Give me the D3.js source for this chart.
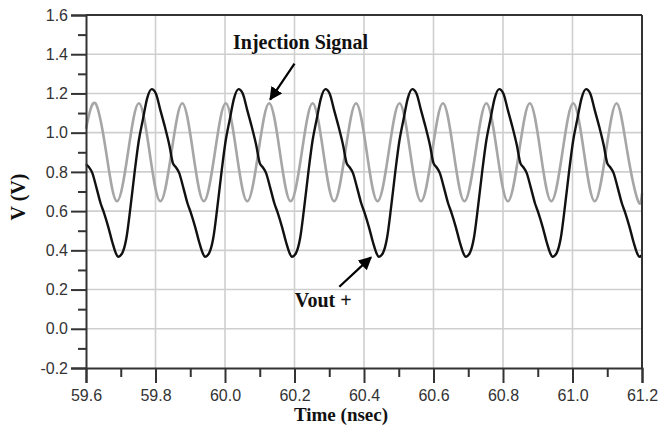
<!DOCTYPE html>
<html>
<head>
<meta charset="utf-8">
<script src="https://cdn.jsdelivr.net/npm/d3@7"></script>
<style>
  body { margin: 0; background: #fff; }
  svg { display: block; }
</style>
</head>
<body>
<svg id="chart"></svg>
<script>
// time in nsec, voltage in V
const injTime = [59.600, 59.627, 59.658, 59.689, 59.721, 59.752, 59.783, 59.814, 59.846, 59.877,
  59.908, 59.939, 59.971, 60.002, 60.033, 60.064, 60.096, 60.127, 60.158, 60.189,
  60.221, 60.252, 60.283, 60.314, 60.346, 60.377, 60.408, 60.439, 60.471, 60.502,
  60.533, 60.564, 60.596, 60.627, 60.658, 60.689, 60.721, 60.752, 60.783, 60.814,
  60.846, 60.877, 60.908, 60.939, 60.971, 61.002, 61.033, 61.064, 61.096, 61.127,
  61.158, 61.189, 61.200];
const injVolt = [1.02, 1.15, 0.90, 0.65, 0.90, 1.15, 0.90, 0.65, 0.90, 1.15,
  0.90, 0.65, 0.90, 1.15, 0.90, 0.65, 0.90, 1.15, 0.90, 0.65,
  0.90, 1.15, 0.90, 0.65, 0.90, 1.15, 0.90, 0.65, 0.90, 1.15,
  0.90, 0.65, 0.90, 1.15, 0.90, 0.65, 0.90, 1.15, 0.90, 0.65,
  0.90, 1.15, 0.90, 0.65, 0.90, 1.15, 0.90, 0.65, 0.90, 1.15,
  0.90, 0.65, 0.69];

const voutTime = [
  59.600, 59.608, 59.618, 59.630, 59.642, 59.652, 59.664, 59.676, 59.686,
  59.692, 59.704, 59.716, 59.728, 59.740, 59.752, 59.764, 59.776, 59.789, 59.801, 59.814,
  59.827, 59.840, 59.850, 59.858, 59.868, 59.880, 59.892, 59.902, 59.914, 59.926, 59.936,
  59.942, 59.954, 59.966, 59.978, 59.990, 60.002, 60.014, 60.026, 60.039, 60.051, 60.064,
  60.077, 60.090, 60.100, 60.108, 60.118, 60.130, 60.142, 60.152, 60.164, 60.176, 60.186,
  60.192, 60.204, 60.216, 60.228, 60.240, 60.252, 60.264, 60.276, 60.289, 60.301, 60.314,
  60.327, 60.340, 60.350, 60.358, 60.368, 60.380, 60.392, 60.402, 60.414, 60.426, 60.436,
  60.442, 60.454, 60.466, 60.478, 60.490, 60.502, 60.514, 60.526, 60.539, 60.551, 60.564,
  60.577, 60.590, 60.600, 60.608, 60.618, 60.630, 60.642, 60.652, 60.664, 60.676, 60.686,
  60.692, 60.704, 60.716, 60.728, 60.740, 60.752, 60.764, 60.776, 60.789, 60.801, 60.814,
  60.827, 60.840, 60.850, 60.858, 60.868, 60.880, 60.892, 60.902, 60.914, 60.926, 60.936,
  60.942, 60.954, 60.966, 60.978, 60.990, 61.002, 61.014, 61.026, 61.039, 61.051, 61.064,
  61.077, 61.090, 61.100, 61.108, 61.118, 61.130, 61.142, 61.152, 61.164, 61.176, 61.186,
  61.192, 61.200];
const voutVolt = [
  0.84, 0.825, 0.795, 0.72, 0.64, 0.59, 0.52, 0.44, 0.385,
  0.367, 0.385, 0.46, 0.62, 0.80, 0.96, 1.07, 1.175, 1.222, 1.20, 1.115,
  1.03, 0.935, 0.845, 0.825, 0.795, 0.72, 0.64, 0.59, 0.52, 0.44, 0.385,
  0.367, 0.385, 0.46, 0.62, 0.80, 0.96, 1.07, 1.175, 1.222, 1.20, 1.115,
  1.03, 0.935, 0.845, 0.825, 0.795, 0.72, 0.64, 0.59, 0.52, 0.44, 0.385,
  0.367, 0.385, 0.46, 0.62, 0.80, 0.96, 1.07, 1.175, 1.222, 1.20, 1.115,
  1.03, 0.935, 0.845, 0.825, 0.795, 0.72, 0.64, 0.59, 0.52, 0.44, 0.385,
  0.367, 0.385, 0.46, 0.62, 0.80, 0.96, 1.07, 1.175, 1.222, 1.20, 1.115,
  1.03, 0.935, 0.845, 0.825, 0.795, 0.72, 0.64, 0.59, 0.52, 0.44, 0.385,
  0.367, 0.385, 0.46, 0.62, 0.80, 0.96, 1.07, 1.175, 1.222, 1.20, 1.115,
  1.03, 0.935, 0.845, 0.825, 0.795, 0.72, 0.64, 0.59, 0.52, 0.44, 0.385,
  0.367, 0.385, 0.46, 0.62, 0.80, 0.96, 1.07, 1.175, 1.222, 1.20, 1.115,
  1.03, 0.935, 0.845, 0.825, 0.795, 0.72, 0.64, 0.59, 0.52, 0.44, 0.385,
  0.367, 0.375];

const xTicks = [59.6, 59.8, 60.0, 60.2, 60.4, 60.6, 60.8, 61.0, 61.2];
const xMinor = [59.7, 59.9, 60.1, 60.3, 60.5, 60.7, 60.9, 61.1];
const yTicks = [-0.2, 0.0, 0.2, 0.4, 0.6, 0.8, 1.0, 1.2, 1.4, 1.6];
const yMinor = [-0.1, 0.1, 0.3, 0.5, 0.7, 0.9, 1.1, 1.3, 1.5];

const width = 659;
const height = 434;
const margin = { top: 15, right: 17, bottom: 66, left: 86 };

const svg = d3.select("#chart")
    .attr("width", width)
    .attr("height", height);

const x = d3.scaleLinear()
    .domain([59.6, 61.2])
    .range([margin.left, width - margin.right]);

const y = d3.scaleLinear()
    .domain([-0.2, 1.6])
    .range([height - margin.bottom, margin.top]);

// grid
svg.append("g")
    .attr("stroke", "#cfcfcf")
    .attr("stroke-width", 1.6)
    .selectAll("line")
    .data(xTicks.slice(1, -1))
    .join("line")
    .attr("x1", d => x(d)).attr("x2", d => x(d))
    .attr("y1", y(1.6)).attr("y2", y(-0.2));

svg.append("g")
    .attr("stroke", "#cfcfcf")
    .attr("stroke-width", 1.6)
    .selectAll("line")
    .data(yTicks.slice(1, -1))
    .join("line")
    .attr("x1", x(59.6)).attr("x2", x(61.2))
    .attr("y1", d => y(d)).attr("y2", d => y(d));

// curves
const injLine = d3.line()
    .x((d, i) => x(injTime[i]))
    .y(d => y(d))
    .curve(d3.curveNatural);

const voutLine = d3.line()
    .x((d, i) => x(voutTime[i]))
    .y(d => y(d))
    .curve(d3.curveMonotoneX);

svg.append("path")
    .attr("d", injLine(injVolt))
    .attr("fill", "none")
    .attr("stroke", "#a6a6a6")
    .attr("stroke-width", 2.6);

svg.append("path")
    .attr("d", voutLine(voutVolt))
    .attr("fill", "none")
    .attr("stroke", "#111")
    .attr("stroke-width", 2.4);

// axes
const axisColor = "#333";
const fmt = d => d.toFixed(1);

svg.append("g")
    .attr("transform", `translate(0, ${height - margin.bottom})`)
    .call(d3.axisBottom(x).tickValues(xTicks).tickSize(15).tickPadding(7).tickFormat(fmt));

svg.append("g")
    .attr("transform", `translate(0, ${height - margin.bottom})`)
    .call(d3.axisBottom(x).tickValues(xMinor).tickSize(9).tickFormat(""))
    .select(".domain").remove();

svg.append("g")
    .attr("transform", `translate(${margin.left}, 0)`)
    .call(d3.axisLeft(y).tickValues(yTicks).tickSize(15).tickPadding(3).tickFormat(fmt));

svg.append("g")
    .attr("transform", `translate(${margin.left}, 0)`)
    .call(d3.axisLeft(y).tickValues(yMinor).tickSize(8).tickFormat(""))
    .select(".domain").remove();

svg.selectAll(".tick line").attr("stroke", axisColor).attr("stroke-width", 2);
svg.selectAll(".domain").attr("stroke", axisColor).attr("stroke-width", 2);
svg.selectAll(".tick text")
    .attr("font-family", "'Liberation Sans', Arial, sans-serif")
    .attr("font-size", "16px")
    .attr("fill", "#333");

// top and right frame
svg.append("line")
    .attr("x1", x(59.6)).attr("x2", x(61.2))
    .attr("y1", y(1.6)).attr("y2", y(1.6))
    .attr("stroke", axisColor).attr("stroke-width", 2);
svg.append("line")
    .attr("x1", x(61.2)).attr("x2", x(61.2))
    .attr("y1", y(1.6)).attr("y2", y(-0.2))
    .attr("stroke", axisColor).attr("stroke-width", 2);

// axis titles
const serif = "'Liberation Serif', 'Times New Roman', serif";

svg.append("text")
    .attr("x", 341)
    .attr("y", 421)
    .attr("text-anchor", "middle")
    .attr("font-family", serif)
    .attr("font-weight", "bold")
    .attr("font-size", "19px")
    .attr("fill", "#111")
    .text("Time (nsec)");

svg.append("text")
    .attr("transform", "translate(25, 197) rotate(-90)")
    .attr("text-anchor", "middle")
    .attr("font-family", serif)
    .attr("font-weight", "bold")
    .attr("font-size", "20px")
    .attr("fill", "#111")
    .text("V (V)");

// annotations
svg.append("defs").append("marker")
    .attr("id", "head")
    .attr("viewBox", "0 0 10 10")
    .attr("refX", 9).attr("refY", 5)
    .attr("markerWidth", 6).attr("markerHeight", 6)
    .attr("markerUnits", "strokeWidth")
    .attr("orient", "auto")
    .append("path")
    .attr("d", "M0,0 L10,5 L0,10 Z")
    .attr("fill", "#000");

const notes = [
  { text: "Injection Signal", tx: 60.023, tv: 1.429, from: [60.200, 1.352], to: [60.130, 1.169] },
  { text: "Vout +", tx: 60.201, tv: 0.109, from: [60.329, 0.214], to: [60.420, 0.364] }
];

notes.forEach(n => {
  svg.append("text")
      .attr("x", x(n.tx))
      .attr("y", y(n.tv))
      .attr("font-family", serif)
      .attr("font-weight", "bold")
      .attr("font-size", "20px")
      .attr("fill", "#111")
      .text(n.text);
  svg.append("line")
      .attr("x1", x(n.from[0])).attr("y1", y(n.from[1]))
      .attr("x2", x(n.to[0])).attr("y2", y(n.to[1]))
      .attr("stroke", "#000")
      .attr("stroke-width", 2.2)
      .attr("marker-end", "url(#head)");
});
</script>
</body>
</html>
